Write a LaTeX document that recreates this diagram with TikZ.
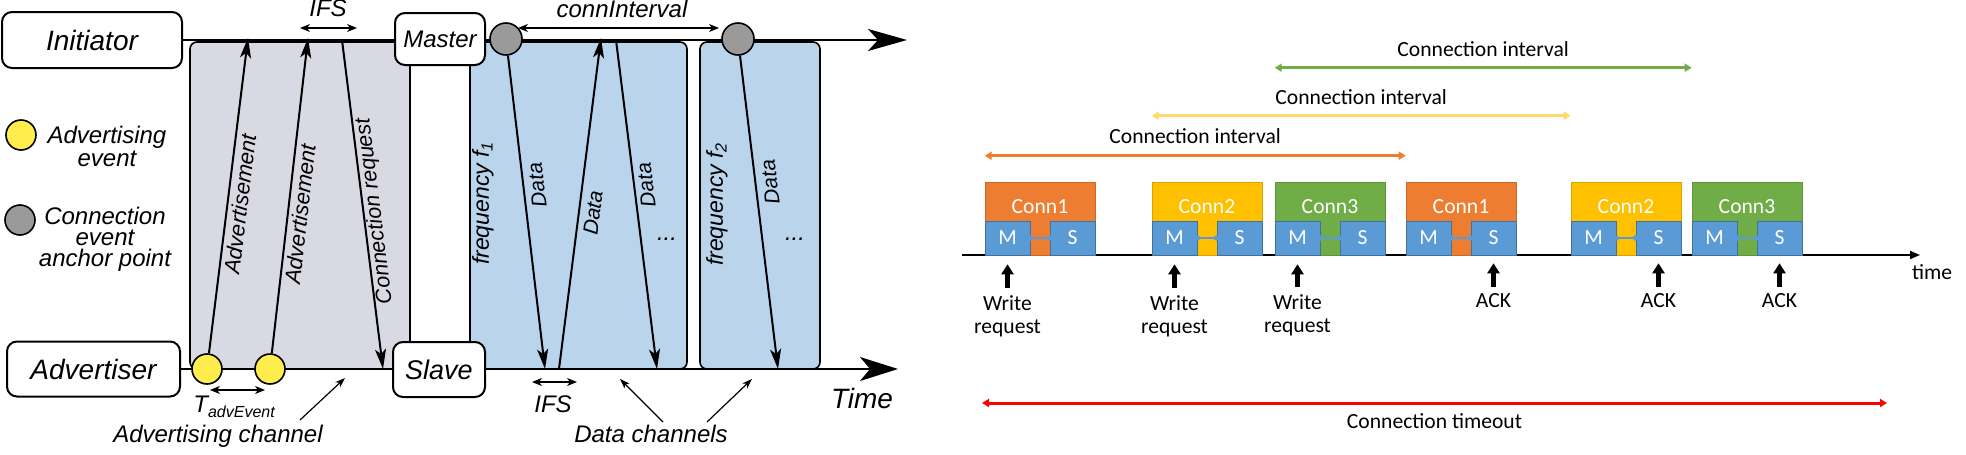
\documentclass[tikz,border=0pt]{standalone}
\usepackage{fontspec}
\setmainfont{Liberation Sans}
\newfontfamily\calib{Carlito}
\usetikzlibrary{arrows.meta}
\definecolor{advgray}{HTML}{D9D9E3}
\definecolor{datablue}{HTML}{BAD4EC}
\definecolor{advyellow}{HTML}{FFEC4D}
\definecolor{ancgray}{HTML}{9A9A9A}
\definecolor{cOrange}{HTML}{ED7D31}
\definecolor{cYellow}{HTML}{FFC000}
\definecolor{cGreen}{HTML}{70AD47}
\definecolor{cBlue}{HTML}{5B9BD5}
\definecolor{cBlueD}{HTML}{41719C}
\definecolor{lYellow}{HTML}{FFD966}
\begin{document}
\begin{tikzpicture}[x=0.5pt,y=-0.5pt,
  lab/.style={inner sep=0pt, font=\itshape\fontsize{#1}{#1}\selectfont},
  lab/.default=12,
  role/.style={draw, line width=1pt, rounded corners=5pt, fill=white, inner sep=0pt},
  msg/.style={line width=1pt, -{Stealth[length=10pt,width=5.5pt,inset=2.5pt]}},
  dim/.style={line width=0.7pt, {Stealth[length=5pt,width=4pt,inset=1.5pt]}-{Stealth[length=5pt,width=4pt,inset=1.5pt]}},
  pointer/.style={line width=0.6pt, -{Stealth[length=5pt,width=3.5pt,inset=1.5pt]}},
  axistop/.style={line width=1pt, -{Stealth[length=19.5pt,width=11pt,inset=5pt]}},
  axisbot/.style={line width=1pt, -{Stealth[length=19pt,width=12pt,inset=5pt]}},
  chan/.style={draw, line width=0.8pt, rounded corners=3.5pt},
  evt/.style={circle, draw, line width=0.8pt, minimum size=15pt, inner sep=0pt},
  rt/.style={inner sep=0pt, font=\calib\fontsize{10.8}{11.5}\selectfont},
  connblock/.style={minimum width=55pt, minimum height=36.5pt, inner sep=0pt, fill=#1, draw=#1!85!black, line width=0.3pt},
  msbox/.style={rt, minimum width=22.5pt, minimum height=17pt, fill=cBlue, draw=cBlueD, line width=0.3pt, text=white},
  link/.style={draw=cBlue, line width=1pt},
  upar/.style={line width=2.2pt, -{Triangle[length=5pt,width=6pt]}},
  interval/.style={line width=1.3pt, {Triangle[length=3.5pt,width=4pt]}-{Triangle[length=3.5pt,width=4pt]}},
]
\useasboundingbox (0,0) rectangle (1966,455);

%% ================= LEFT DIAGRAM =================
% channel boxes
\draw[chan, fill=advgray]  (190,42) rectangle (410,369);
\draw[chan, fill=datablue] (470,42) rectangle (687,369);
\draw[chan, fill=datablue] (700,42) rectangle (820,369);

% role boxes and time axes
\node[role, minimum width=90pt, minimum height=28pt, font=\itshape\fontsize{14}{16}\selectfont] (init) at (92,40) {Initiator};
\node[role, minimum width=86.5pt, minimum height=27.5pt, font=\itshape\fontsize{14}{16}\selectfont] (adv) at (93.5,369) {Advertiser};
\coordinate (topend) at (907,40);
\coordinate (botend) at (898,369);
\draw[axistop] (init.east) -- (topend);
\draw[axisbot] (adv.east) -- (botend);
\node[role, minimum width=45pt, minimum height=26pt, font=\itshape\fontsize{12}{14}\selectfont] (master) at (440,39) {Master};
\node[role, minimum width=46pt, minimum height=27.5pt, font=\itshape\fontsize{13.5}{15}\selectfont] (slave) at (439,369.5) {Slave};

% events
\node[evt, fill=advyellow] (y1) at (207,369) {};
\node[evt, fill=advyellow] (y2) at (270,369) {};
\node[evt, fill=ancgray, minimum size=16pt] (g1) at (506,39) {};
\node[evt, fill=ancgray, minimum size=16pt] (g2) at (738,39) {};

% legend
\node[evt, fill=advyellow] (ly) at (21,135) {};
\node[lab, align=center, font=\itshape\fontsize{12}{11.5}\selectfont] (lyt) at (107,146) {Advertising\\event};
\node[evt, fill=ancgray] (lg) at (20,220) {};
\node[lab, align=center, font=\itshape\fontsize{12}{10.6}\selectfont] (lgt) at (105,239) {Connection\\event\\anchor point};

% advertising messages
\coordinate (a1) at (248,38);
\coordinate (a2) at (308,38);
\coordinate (cr0) at (342,40);
\coordinate (cr1) at (383,369);
\draw[msg] (y1) -- (a1);
\draw[msg] (y2) -- (a2);
\draw[msg] (cr0) -- (cr1);
\node[lab=11, rotate=83] (adv1t) at (240,204) {Advertisement};
\node[lab=11, rotate=83.5] (adv2t) at (300,214) {Advertisement};
\node[lab=10.8, rotate=97] (crt) at (375,211) {Connection request};

% data messages
\coordinate (d1) at (545,369);
\coordinate (d2s) at (559,369);
\coordinate (d2) at (601,38);
\coordinate (d3s) at (616,40);
\coordinate (d3) at (657,369);
\coordinate (d4) at (778,369);
\draw[msg] (g1) -- (d1);
\draw[msg] (d2s) -- (d2);
\draw[msg] (d3s) -- (d3);
\draw[msg] (g2) -- (d4);
\node[lab=10.5, rotate=97] (dt1) at (537,185) {Data};
\node[lab=10.5, rotate=83] (dt2) at (593,213) {Data};
\node[lab=10.5, rotate=97] (dt3) at (646,185) {Data};
\node[lab=10.5, rotate=97] (dt4) at (770,182) {Data};
\node[lab=11.5, rotate=90] (f1) at (483,203) {frequency f\textsubscript{1}};
\node[lab=11.5, rotate=90] (f2) at (717,204) {frequency f\textsubscript{2}};
\node[lab] (dots1) at (667,239) {...};
\node[lab] (dots2) at (795,239) {...};

% dimension arrows
\coordinate (ifs1a) at (300,28); \coordinate (ifs1b) at (357,28);
\draw[dim] (ifs1a) -- (ifs1b);
\node[lab, anchor=base] (ifs1t) at (328,17) {IFS};
\coordinate (ci1) at (518,28); \coordinate (ci2) at (719,28);
\draw[dim] (ci1) -- (ci2);
\node[lab, anchor=base] (cit) at (622,18) {connInterval};
\coordinate (ifs2a) at (532,382); \coordinate (ifs2b) at (577,382);
\draw[dim] (ifs2a) -- (ifs2b);
\node[lab, anchor=base] (ifs2t) at (553,412) {IFS};
\coordinate (ta1) at (210,390); \coordinate (ta2) at (265,390);
\draw[dim] (ta1) -- (ta2);
\node[lab, anchor=base west] (tadv) at (193,412) {T\raisebox{-0.45ex}{\fontsize{8}{8}\selectfont advEvent}};

% bottom captions
\node[lab=14, anchor=base] (timet) at (862,408) {Time};
\node[lab, anchor=base] (advch) at (218,442) {Advertising channel};
\coordinate (acp0) at (300,420); \coordinate (acp1) at (345,378);
\draw[pointer] (acp0) -- (acp1);
\node[lab, anchor=base] (datach) at (651,442) {Data channels};
\coordinate (dcp0) at (663,422); \coordinate (dcp1) at (620,379);
\coordinate (dcp2) at (707,422); \coordinate (dcp3) at (752,379);
\draw[pointer] (dcp0) -- (dcp1);
\draw[pointer] (dcp2) -- (dcp3);

%% ================= RIGHT DIAGRAM =================
\coordinate (t0) at (962,255);
\coordinate (t1) at (1920,255);
\draw[line width=0.85pt, -{Triangle[length=5pt,width=4pt]}] (t0) -- (t1);
\node[rt, anchor=base] (timelbl) at (1932,279) {time};

\foreach \bx/\bc/\bn [count=\i] in {985/cOrange/1, 1152/cYellow/2, 1275/cGreen/3, 1406/cOrange/1, 1571/cYellow/2, 1692/cGreen/3} {
  \node[connblock=\bc] (b\i) at (\bx+55,218.5) {};
  \node[rt, text=white, anchor=base] (bt\i) at (\bx+55,213) {Conn\bn};
  \node[msbox] (m\i) at (\bx+22.5,238) {M};
  \node[msbox] (s\i) at (\bx+87.5,238) {S};
  \draw[link] (m\i.east) -- (s\i.west);
  \fill[cBlue] (m\i.east) circle (1.4pt);
  \fill[cBlue] (s\i.west) circle (1.4pt);
}

% connection intervals
\draw[interval, draw=cOrange] ([yshift=13pt]b1.north west) -- ([yshift=13pt]b4.north west)
  node[midway, above=5.5pt, rt] (oi) {Connection interval};
\draw[interval, draw=lYellow] ([yshift=33pt]b2.north west) -- ([yshift=33pt]b5.north west)
  node[midway, above=5pt, rt] (yi) {Connection interval};
\draw[interval, draw=cGreen] ([yshift=57pt]b3.north west) -- ([yshift=57pt]b6.north west)
  node[midway, above=5pt, rt] (gi) {Connection interval};

% requests and acks
\node[rt, align=center, anchor=north] (wr1) at (1007.5,295) {Write\\request};
\node[rt, align=center, anchor=north] (wr2) at (1174.5,295) {Write\\request};
\node[rt, align=center, anchor=north] (wr3) at (1297.5,294) {Write\\request};
\node[rt, anchor=north] (ack1) at (1493.5,293) {ACK};
\node[rt, anchor=north] (ack2) at (1658.5,293) {ACK};
\node[rt, anchor=north] (ack3) at (1779.5,293) {ACK};
\draw[upar, shorten <=3.5pt, shorten >=4.5pt] (wr1.north) -- (m1.south);
\draw[upar, shorten <=3.5pt, shorten >=4.5pt] (wr2.north) -- (m2.south);
\draw[upar, shorten <=3.5pt, shorten >=4.5pt] (wr3.north) -- (m3.south);
\draw[upar, shorten <=3pt, shorten >=4pt] (ack1.north) -- (s4.south);
\draw[upar, shorten <=3pt, shorten >=4pt] (ack2.north) -- (s5.south);
\draw[upar, shorten <=3pt, shorten >=4pt] (ack3.north) -- (s6.south);

% connection timeout
\coordinate (to1) at (982,403);
\coordinate (to2) at (1887,403);
\draw[interval, draw=red, line width=1.5pt] (to1) -- (to2)
  node[midway, below=4.5pt, rt] (tot) {Connection timeout};
\end{tikzpicture}
\end{document}
